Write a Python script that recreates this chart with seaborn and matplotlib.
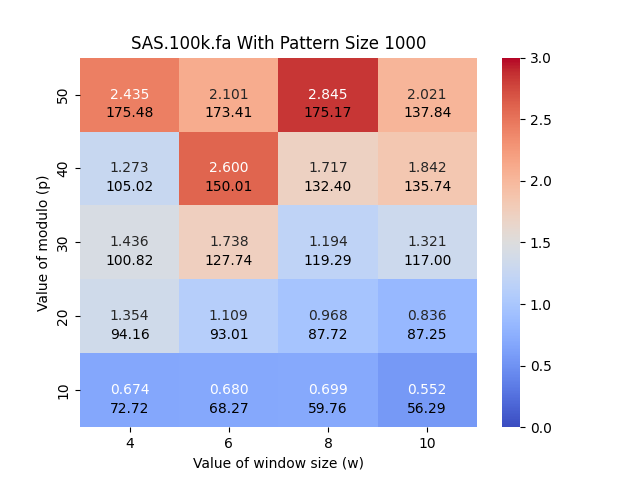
import numpy as np
import pandas as pd
import matplotlib
matplotlib.use('Agg')
import matplotlib.pyplot as plt
import seaborn as sns

# window sizes (columns) and modulo values (rows, top to bottom)
windows = [4, 6, 8, 10]
modulos = [50, 40, 30, 20, 10]

# speedup values (coloured + annotated)
speedup_50 = [2.435, 2.101, 2.845, 2.021]
speedup_40 = [1.273, 2.600, 1.717, 1.842]
speedup_30 = [1.436, 1.738, 1.194, 1.321]
speedup_20 = [1.354, 1.109, 0.968, 0.836]
speedup_10 = [0.674, 0.680, 0.699, 0.552]

# times shown under each speedup
time_50 = [175.48, 173.41, 175.17, 137.84]
time_40 = [105.02, 150.01, 132.40, 135.74]
time_30 = [100.82, 127.74, 119.29, 117.00]
time_20 = [94.16, 93.01, 87.72, 87.25]
time_10 = [72.72, 68.27, 59.76, 56.29]

speedup = pd.DataFrame([speedup_50, speedup_40, speedup_30, speedup_20, speedup_10],
                       index=modulos, columns=windows)
times = np.array([time_50, time_40, time_30, time_20, time_10])

fig, ax = plt.subplots(figsize=(6.4, 4.8), dpi=100)
sns.heatmap(speedup, annot=True, fmt='.3f', cmap='coolwarm', vmin=0, vmax=3, ax=ax)

for i in range(times.shape[0]):
    for j in range(times.shape[1]):
        ax.text(j + 0.5, i + 0.75, f'{times[i, j]:.2f}',
                ha='center', va='center', color='black', fontsize=10)

ax.set_title('SAS.100k.fa With Pattern Size 1000')
ax.set_xlabel('Value of window size (w)')
ax.set_ylabel('Value of modulo (p)')

plt.savefig('out.png', dpi=100)
